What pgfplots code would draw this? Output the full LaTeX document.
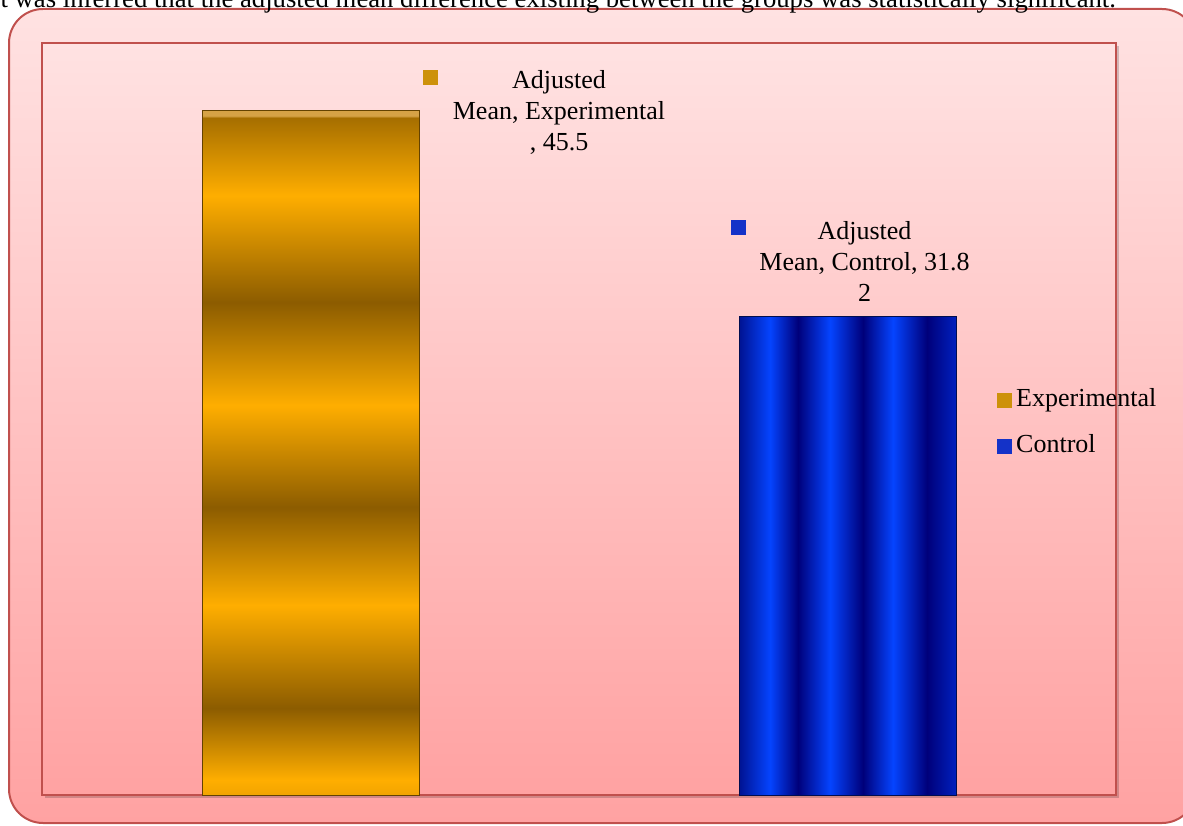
\documentclass[border=0pt]{standalone}
\usepackage{fontspec}
\setmainfont{Liberation Serif}
\usepackage{pgfplots}
\pgfplotsset{compat=1.18}

\definecolor{chartred}{RGB}{192,80,77}
\definecolor{bgtop}{RGB}{255,226,226}
\definecolor{bgbot}{RGB}{255,162,162}
% gold bar
\definecolor{obright}{RGB}{255,174,0}
\definecolor{odark}{RGB}{140,92,0}
\definecolor{omid}{RGB}{165,110,0}
\definecolor{obevel}{RGB}{214,162,70}
\definecolor{oedge}{RGB}{100,66,0}
\definecolor{expsq}{RGB}{205,145,10}
% blue bar
\definecolor{bbright}{RGB}{5,68,255}
\definecolor{bdark}{RGB}{0,0,122}
\definecolor{bedge}{RGB}{0,18,145}
\definecolor{bmid}{RGB}{0,32,190}
\definecolor{bline}{RGB}{0,14,80}
\definecolor{ctlsq}{RGB}{20,50,200}

% stripes: 25bp = bottom/left of the bar, 75bp = top/right
\pgfdeclareverticalshading{orangebar}{100bp}{%
  color(0bp)=(obright); color(25bp)=(obright!88!odark);
  color(26.1bp)=(obright); color(31.35bp)=(odark);
  color(38.87bp)=(obright); color(46.02bp)=(odark);
  color(53.47bp)=(obright); color(60.99bp)=(odark);
  color(68.8bp)=(obright); color(74.5bp)=(omid);
  color(74.6bp)=(obevel); color(100bp)=(obevel)}
\pgfdeclarehorizontalshading{bluebar}{100bp}{%
  color(0bp)=(bedge); color(25bp)=(bedge);
  color(32.14bp)=(bbright); color(38.59bp)=(bdark);
  color(45.97bp)=(bbright); color(53.57bp)=(bdark);
  color(60.48bp)=(bbright); color(68.32bp)=(bdark);
  color(75bp)=(bmid); color(100bp)=(bmid)}

% plain square for the legend, drawn without the plot's shading
\newcommand\legsquare[1]{%
  \pgfsetfillcolor{#1}%
  \pgfpathrectangle{\pgfpoint{0pt}{-3.75pt}}{\pgfpoint{7.5pt}{7.5pt}}%
  \pgfusepath{fill}}

\begin{document}
\fontsize{13}{15.5}\selectfont
\begin{tikzpicture}
\useasboundingbox (0,0) rectangle (591.5pt,412.5pt);
% chart area
\shade[top color=bgtop, bottom color=bgbot, draw=chartred, line width=1pt,
  rounded corners=17pt] (4.5pt,1pt) rectangle (598pt,408pt);
\node[anchor=base east, font=\fontsize{13.35}{16}\selectfont] at (562.5pt,408.5pt)
  {It was inferred that the adjusted mean difference existing between the groups was statistically significant.};
% plot area shadow
\fill[black, opacity=0.18] (22.5pt,13.5pt) rectangle (559.5pt,389.5pt);

\begin{axis}[
  at={(21pt,15pt)}, anchor=south west,
  width=537pt, height=376pt, scale only axis,
  xmin=0.5, xmax=2.5, ymin=0, ymax=50,
  xtick=\empty, ytick=\empty,
  axis line style={draw=chartred, line width=0.8pt},
  axis background/.style={top color=bgtop, bottom color=bgbot},
  ybar, bar width=108.5pt, bar shift=0pt,
  clip=false,
  /pgf/number format/assume math mode=true,
  legend cell align=left,
  legend style={at={(0.889,0.4934)}, anchor=west, draw=none, fill=none,
    inner sep=0pt, row sep=7pt,
    nodes={inner sep=2pt, text height=9pt, text depth=3pt}},
]
\addplot[ybar, shade, shading=orangebar, draw=oedge, line width=0.5pt,
  legend image code/.code={\legsquare{expsq}},
  nodes near coords={Adjusted\\Mean, Experimental\\, \pgfmathprintnumber{\pgfplotspointmeta}},
  nodes near coords style={anchor=center, align=center, inner sep=0pt,
    text=black, xshift=124.25pt, yshift=-1pt,
    label={[fill=expsq, inner sep=0pt, minimum size=7.5pt,
      xshift=-64.25pt, yshift=17.75pt]center:{}}},
] coordinates {(1,45.5)};
\addplot[ybar, shade, shading=bluebar, draw=bline, line width=0.5pt,
  legend image code/.code={\legsquare{ctlsq}},
  nodes near coords={Adjusted\\Mean, Control, 31.8\\2},
  nodes near coords style={anchor=center, align=center, inner sep=0pt,
    text=black, xshift=8.5pt, yshift=27.5pt,
    label={[fill=ctlsq, inner sep=0pt, minimum size=7.5pt,
      xshift=-63.25pt, yshift=17pt]center:{}}},
] coordinates {(2,31.82)};
\legend{Experimental, Control}
\end{axis}
\end{tikzpicture}
\end{document}
